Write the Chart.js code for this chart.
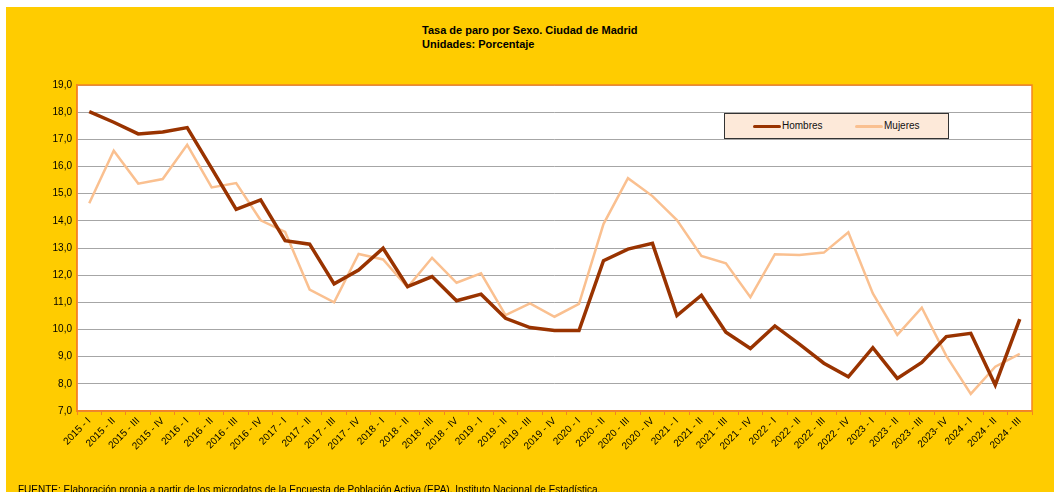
<!DOCTYPE html>
<html>
<head>
<meta charset="utf-8">
<script src="https://cdn.jsdelivr.net/npm/chart.js@4/dist/chart.umd.min.js"></script>
<style>
  html, body { margin: 0; padding: 0; background: #fff; }
  body { width: 1054px; height: 492px; position: relative; overflow: hidden; font-family: "Liberation Sans", Arial, sans-serif; }
  #bg { position: absolute; left: 6px; top: 7px; right: 0; bottom: 0; background: #FFCC00; }
  #wrap { position: absolute; left: 0; top: 0; width: 1054px; height: 492px; }
  #title { position: absolute; left: 422px; top: 23px; font-size: 11px; font-weight: bold; line-height: 14px; color: #000; }
  #legend { position: absolute; left: 724px; top: 113px; width: 223px; height: 24px; background: #FDE9D9; border: 1px solid #333; font-size: 10px; color: #111; }
  .item { position: absolute; top: 0; height: 24px; line-height: 24px; }
  .swatch { display: inline-block; width: 28px; vertical-align: middle; margin-right: 1px; border-radius: 2px; }
  #footer { position: absolute; left: 18px; top: 484px; font-size: 10px; color: #000; white-space: nowrap; }
</style>
</head>
<body>
<div id="bg"></div>
<div id="title">Tasa de paro por Sexo. Ciudad de Madrid<br>Unidades: Porcentaje</div>
<div id="wrap"><canvas id="chart" width="1054" height="492"></canvas></div>
<div id="legend"></div>
<div id="footer">FUENTE: Elaboración propia a partir de los microdatos de la Encuesta de Población Activa (EPA). Instituto Nacional de Estadística.</div>
<script>
// Periods (quarters)
const periods = [
  '2015 - I', '2015 - II', '2015 - III', '2015 - IV',
  '2016 - I', '2016 - II', '2016 - III', '2016 - IV',
  '2017 - I', '2017 - II', '2017 - III', '2017 - IV',
  '2018 - I', '2018 - II', '2018 - III', '2018 - IV',
  '2019 - I', '2019 - II', '2019 - III', '2019 - IV',
  '2020 - I', '2020 - II', '2020 - III', '2020 - IV',
  '2021 - I', '2021 - II', '2021 - III', '2021 - IV',
  '2022 - I', '2022 - II', '2022 - III', '2022 - IV',
  '2023 - I', '2023 - II', '2023 - III', '2023- IV',
  '2024 - I', '2024 - II', '2024 - III'
];

const hombres = [
  18.02, 17.63, 17.20, 17.27, 17.43, 15.93, 14.42, 14.77,
  13.27, 13.14, 11.68, 12.19, 12.99, 11.58, 11.95, 11.06,
  11.30, 10.41, 10.07, 9.96, 9.96, 12.53, 12.96, 13.17,
  10.51, 11.26, 9.90, 9.30, 10.13, 9.46, 8.76, 8.26,
  9.33, 8.20, 8.79, 9.74, 9.86, 7.96, 10.38
];

const mujeres = [
  14.65, 16.58, 15.37, 15.54, 16.80, 15.23, 15.39, 14.02,
  13.59, 11.47, 11.00, 12.78, 12.58, 11.55, 12.64, 11.72,
  12.07, 10.53, 10.96, 10.47, 10.94, 13.88, 15.57, 14.91,
  14.03, 12.71, 12.44, 11.19, 12.77, 12.74, 12.83, 13.58,
  11.33, 9.80, 10.80, 9.03, 7.63, 8.63, 9.10
];

const seriesNames = ['Hombres', 'Mujeres'];
const seriesColors = ['#993300', '#FAC090'];

const orange = '#F58220';

// white plot area + orange frame
const plotFrame = {
  id: 'plotFrame',
  beforeDraw(chart) {
    const { ctx, chartArea: a } = chart;
    ctx.save();
    ctx.fillStyle = '#ffffff';
    ctx.fillRect(a.left, a.top, a.right - a.left, a.bottom - a.top);
    ctx.restore();
  },
  afterDraw(chart) {
    const { ctx, chartArea: a } = chart;
    ctx.save();
    ctx.strokeStyle = orange;
    ctx.lineWidth = 1.5;
    ctx.strokeRect(a.left, a.top, a.right - a.left, a.bottom - a.top);
    ctx.restore();
  }
};

const ctx = document.getElementById('chart').getContext('2d');
const chart = new Chart(ctx, {
  type: 'line',
  data: {
    labels: periods,
    datasets: [
      { label: seriesNames[0], data: hombres, borderColor: seriesColors[0], borderWidth: 3.5, pointRadius: 0, tension: 0, order: 1 },
      { label: seriesNames[1], data: mujeres, borderColor: seriesColors[1], borderWidth: 2.5, pointRadius: 0, tension: 0, order: 2 }
    ]
  },
  options: {
    responsive: false,
    animation: false,
    layout: { padding: { top: 85, right: 22, left: 0, bottom: 21 } },
    plugins: { legend: { display: false }, tooltip: { enabled: false } },
    scales: {
      x: {
        offset: true,
        grid: { drawOnChartArea: false, drawTicks: true, tickLength: 4, color: orange, offset: true },
        border: { color: orange, width: 1.5 },
        ticks: {
          autoSkip: false, maxRotation: 45, minRotation: 45, padding: 0,
          color: '#000', font: { family: 'Liberation Sans', size: 10 }
        },
        afterFit(scale) { scale.height = 60; }
      },
      y: {
        min: 7, max: 19,
        grid: { color: '#A6A6A6', lineWidth: 1, drawTicks: false },
        border: { color: orange, width: 1.5 },
        ticks: {
          stepSize: 1, padding: 5, color: '#000',
          font: { family: 'Liberation Sans', size: 10 },
          callback: v => v.toFixed(1).replace('.', ',')
        },
        afterFit(scale) { scale.width = 77; }
      }
    }
  },
  plugins: [plotFrame]
});

// legend
const legend = document.getElementById('legend');
const lefts = [28, 130];
const widths = [3.5, 2.5];
chart.data.datasets.forEach((ds, i) => {
  const item = document.createElement('div');
  item.className = 'item';
  item.style.left = lefts[i] + 'px';
  item.innerHTML = '<span class="swatch" style="height:' + widths[i] + 'px;background:' + ds.borderColor + '"></span>' + ds.label;
  legend.appendChild(item);
});
</script>
</body>
</html>
